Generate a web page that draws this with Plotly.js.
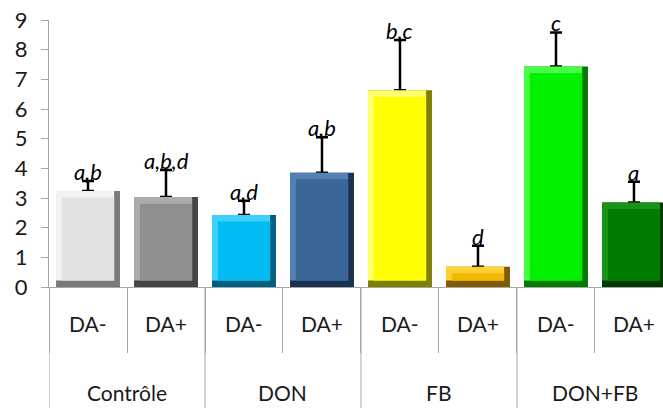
<!DOCTYPE html>
<html>
<head>
<meta charset="utf-8">
<script src="https://cdn.plot.ly/plotly-3.0.1.min.js"></script>
<style>html,body{margin:0;padding:0;background:#fff;}#chart{width:663px;height:408px;}</style>
</head>
<body>
<div id="chart"></div>
<script>
// ---- data ----
const groups = ['Contrôle', 'DON', 'FB', 'DON+FB'];
const subs = ['DA-', 'DA+'];
const means = [3.24, 3.03, 2.43, 3.85, 6.63, 0.68, 7.43, 2.85];
const errs = [0.33, 0.91, 0.48, 1.20, 1.70, 0.71, 1.15, 0.70];
const letters = ['a,b', 'a,b,d', 'a,d', 'a,b', 'b,c', 'd', 'c', 'a'];
const yTicks = [0, 1, 2, 3, 4, 5, 6, 7, 8, 9];

// ---- styles ----
const faceColors = ['#e2e2e2', '#8f8f8f', '#00bcf2', '#3b6698', '#ffff00', '#f2b800', '#00f000', '#007c00'];
const lightColors = ['#f2f2f2', '#acacac', '#3cd2ff', '#5580b4', '#ffff70', '#ffd030', '#48ff48', '#179417'];
const darkColors = ['#7a7a7a', '#454545', '#005f80', '#1a3150', '#7f7f00', '#805c00', '#007a00', '#003800'];
const FONT = 'Lato, "Open Sans", sans-serif';
const BW = 0.82, BX = 0.075, BY = 0.22;

const cats = [];
groups.forEach(g => subs.forEach(s => cats.push(g + ' ' + s)));

const base = {
  type: 'bar', x: cats, y: means, width: BW, offset: -BW / 2,
  marker: {color: darkColors, line: {width: 0}},
  error_y: {type: 'data', symmetric: false, array: errs, arrayminus: means.map(() => 0),
            color: '#000', thickness: 2.5, width: 6},
  hoverinfo: 'skip', showlegend: false
};
const light = {
  type: 'bar', x: cats, y: means.map(v => v - BY), base: means.map(() => BY),
  width: BW - BX, offset: -BW / 2,
  marker: {color: lightColors, line: {width: 0}}, hoverinfo: 'skip', showlegend: false
};
const face = {
  type: 'bar', x: cats, y: means.map(v => v - 2 * BY), base: means.map(() => BY),
  width: BW - 2 * BX, offset: -BW / 2 + BX,
  marker: {color: faceColors, line: {width: 0}}, hoverinfo: 'skip', showlegend: false
};

const annotations = [];
cats.forEach((c, i) => {
  annotations.push({x: c, y: means[i] + errs[i], xref: 'x', yref: 'y', text: letters[i],
    showarrow: false, yanchor: 'bottom', yshift: -6,
    font: {family: FONT, size: 22, style: 'italic', color: '#000'}});
  annotations.push({x: c, y: -0.135, xref: 'x', yref: 'paper', text: subs[i % subs.length],
    showarrow: false, yanchor: 'middle', font: {family: FONT, size: 21, color: '#1a1a1a'}});
});
const shapes = [];
groups.forEach((g, gi) => {
  const mid = gi * subs.length + (subs.length - 1) / 2;
  annotations.push({x: mid, y: -0.397, xref: 'x', yref: 'paper', text: g,
    showarrow: false, yanchor: 'middle', font: {family: FONT, size: 21, color: '#1a1a1a'}});
  const bnd = gi * subs.length - 0.5;
  shapes.push({type: 'line', xref: 'x', yref: 'paper', x0: bnd, x1: bnd, y0: 0, y1: -0.5,
    line: {color: '#a6a6a6', width: 1}});
});

const layout = {
  width: 663, height: 408,
  margin: {l: 49, r: 0, t: 20, b: 121},
  paper_bgcolor: '#fff', plot_bgcolor: '#fff',
  barmode: 'overlay', showlegend: false,
  xaxis: {type: 'category', range: [-0.5, 7.372], showticklabels: false,
          ticks: 'outside', tickson: 'boundaries', ticklen: 65, tickcolor: '#a6a6a6', tickwidth: 1,
          showline: true, linecolor: '#a6a6a6', linewidth: 1, showgrid: false, zeroline: false, fixedrange: true},
  yaxis: {range: [0, 9], tickvals: yTicks, ticks: 'outside', ticklen: 7, tickcolor: '#a6a6a6',
          showline: true, linecolor: '#a6a6a6', linewidth: 1, showgrid: false, zeroline: false,
          ticklabelstandoff: 9, tickfont: {family: FONT, size: 22, color: '#1a1a1a'}, fixedrange: true},
  annotations: annotations, shapes: shapes
};

Plotly.newPlot('chart', [base, light, face], layout, {displayModeBar: false, staticPlot: true});
</script>
</body>
</html>
